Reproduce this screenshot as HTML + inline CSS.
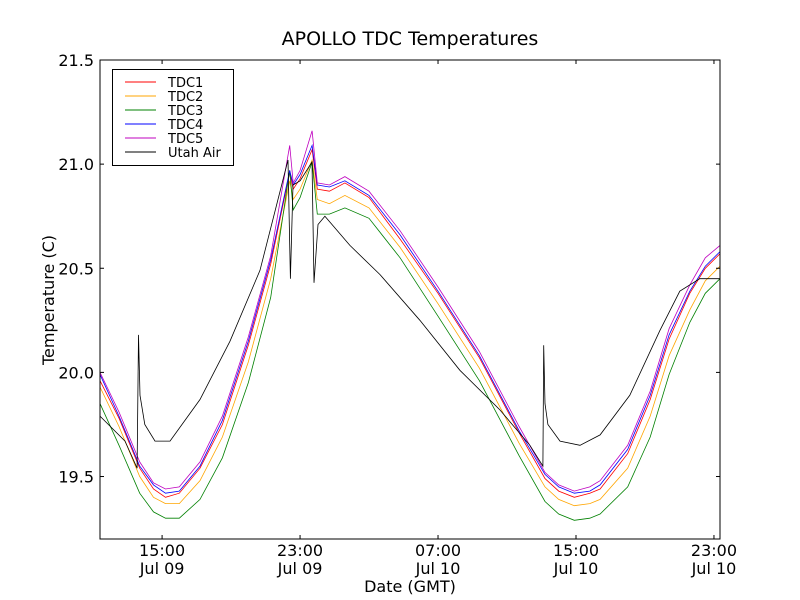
<!DOCTYPE html>
<html><head><meta charset="utf-8"><style>
body{margin:0;background:#fff}
svg{display:block;font-family:"DejaVu Sans","Liberation Sans",sans-serif}
</style></head><body>
<svg id="chart" width="800" height="600">
<rect width="800" height="600" fill="#fff"/>
<text x="410" y="45" text-anchor="middle" font-size="19">APOLLO TDC Temperatures</text>
<text x="410" y="592" text-anchor="middle" font-size="16">Date (GMT)</text>
<text x="54" y="300" text-anchor="middle" font-size="16" transform="rotate(-90 54 300)">Temperature (C)</text>
<g id="series"></g>
<g id="axes"></g>
<rect x="100" y="60" width="620" height="479" fill="none" stroke="#000" stroke-width="1"/>
<g id="legend">
<rect x="112.5" y="69.5" width="121" height="96" fill="#fff" stroke="#000"/>
</g>
</svg>
<script>
const tdcHours=[11.4,12.5,13.7,14.5,15.2,16,17.2,18.5,20,21.3,22.4,22.6,23,23.7,24,24.7,25.6,27,28.8,31,33.4,35.7,37.2,38,38.9,39.8,40.4,42,43.3,44.4,45.6,46.5,47.35];
const tdc1=[19.96,19.78,19.54,19.44,19.40,19.42,19.54,19.75,20.13,20.52,20.96,20.88,20.93,21.07,20.88,20.87,20.91,20.84,20.64,20.38,20.07,19.71,19.49,19.43,19.40,19.42,19.44,19.61,19.87,20.16,20.38,20.50,20.57];
const tdc2=[19.93,19.74,19.50,19.40,19.37,19.37,19.48,19.69,20.05,20.45,20.92,20.83,20.88,21.02,20.83,20.81,20.85,20.79,20.60,20.33,20.02,19.66,19.45,19.39,19.36,19.37,19.39,19.54,19.79,20.08,20.30,20.44,20.51];
const tdc3=[19.85,19.65,19.42,19.33,19.30,19.30,19.39,19.59,19.95,20.36,20.97,20.78,20.84,21.01,20.76,20.76,20.79,20.74,20.55,20.27,19.96,19.60,19.38,19.32,19.29,19.30,19.32,19.45,19.69,19.99,20.24,20.38,20.45];
const tdc4=[19.99,19.79,19.55,19.46,19.42,19.43,19.55,19.77,20.15,20.54,20.97,20.90,20.95,21.09,20.90,20.89,20.92,20.85,20.66,20.39,20.08,19.72,19.51,19.45,19.42,19.43,19.46,19.63,19.89,20.18,20.39,20.51,20.58];
const tdc5=[20.00,19.81,19.57,19.47,19.44,19.45,19.57,19.79,20.17,20.56,21.09,20.91,20.97,21.16,20.91,20.90,20.94,20.87,20.68,20.41,20.10,19.74,19.52,19.46,19.43,19.45,19.48,19.65,19.91,20.21,20.42,20.55,20.61];
const airHours=[11.4,12.85,13.55,13.63,13.72,14.0,14.59,15.46,17.2,18.94,20.68,22.3,22.44,22.59,23.0,23.69,23.81,24.04,24.44,25.89,27.63,29.95,32.27,34.59,36.33,37.08,37.13,37.2,37.37,38.07,39.23,40.4,42.12,43.86,45.02,46.18,47.35];
const airTemps=[19.79,19.67,19.54,20.18,19.89,19.75,19.67,19.67,19.87,20.15,20.49,21.02,20.45,20.90,20.92,21.01,20.43,20.71,20.75,20.61,20.47,20.25,20.01,19.82,19.65,19.55,20.13,19.85,19.75,19.67,19.65,19.70,19.89,20.20,20.39,20.45,20.45];
const yTicks=[19.5,20.0,20.5,21.0,21.5];
const xTickHours=[15,23,31,39,47];
const xTickTimes=["15:00","23:00","07:00","15:00","23:00"];
const xTickDates=["Jul 09","Jul 09","Jul 10","Jul 10","Jul 10"];
const seriesNames=["TDC1","TDC2","TDC3","TDC4","TDC5","Utah Air"];
const colors=["#ff0000","#ffa500","#008000","#0000ff","#bf00bf","#000000"];

const X0=100,X1=720,Y0=60,Y1=539,HMIN=11.4,HMAX=47.35,TMIN=19.2,TMAX=21.5;
const sx=h=>X0+(h-HMIN)/(HMAX-HMIN)*(X1-X0);
const sy=t=>Y1-(t-TMIN)/(TMAX-TMIN)*(Y1-Y0);
const NS="http://www.w3.org/2000/svg";
const sg=document.getElementById('series'),ag=document.getElementById('axes'),lg=document.getElementById('legend');
const all=[[tdcHours,tdc1],[tdcHours,tdc2],[tdcHours,tdc3],[tdcHours,tdc4],[tdcHours,tdc5],[airHours,airTemps]];
all.forEach((s,i)=>{
  const p=document.createElementNS(NS,'polyline');
  p.setAttribute('points',s[0].map((h,j)=>sx(h).toFixed(1)+','+sy(s[1][j]).toFixed(1)).join(' '));
  p.setAttribute('fill','none');p.setAttribute('stroke',colors[i]);p.setAttribute('stroke-width','0.8');
  
  
  sg.appendChild(p);
  const y=82+i*14;
  const l=document.createElementNS(NS,'line');
  l.setAttribute('x1',125);l.setAttribute('x2',156);l.setAttribute('y1',y);l.setAttribute('y2',y);
  l.setAttribute('stroke',colors[i]);
  
  
  lg.appendChild(l);
  const t=document.createElementNS(NS,'text');
  t.setAttribute('x',168);t.setAttribute('y',y+5);t.setAttribute('font-size','13');
  t.textContent=seriesNames[i];
  
  
  lg.appendChild(t);
});
yTicks.forEach(v=>{
  const y=sy(v);
  [[X0,X0+4],[X1,X1-4]].forEach(a=>{
    const l=document.createElementNS(NS,'line');
    l.setAttribute('x1',a[0]);l.setAttribute('x2',a[1]);l.setAttribute('y1',y);l.setAttribute('y2',y);l.setAttribute('stroke','#000');
    
    
    ag.appendChild(l);
  });
  const t=document.createElementNS(NS,'text');
  t.setAttribute('x',94);t.setAttribute('y',y+6);t.setAttribute('text-anchor','end');t.setAttribute('font-size','16');
  t.textContent=v.toFixed(1);
  
  
  ag.appendChild(t);
});
xTickHours.forEach((h,i)=>{
  const x=sx(h);
  [[Y1,Y1-4],[Y0,Y0+4]].forEach(a=>{
    const l=document.createElementNS(NS,'line');
    l.setAttribute('x1',x);l.setAttribute('x2',x);l.setAttribute('y1',a[0]);l.setAttribute('y2',a[1]);l.setAttribute('stroke','#000');
    
    
    ag.appendChild(l);
  });
  [[xTickTimes[i],556],[xTickDates[i],574]].forEach(a=>{
    const t=document.createElementNS(NS,'text');
    t.setAttribute('x',x);t.setAttribute('y',a[1]);t.setAttribute('text-anchor','middle');t.setAttribute('font-size','16');
    t.textContent=a[0];
    
    
    ag.appendChild(t);
  });
});
</script>
</body></html>
